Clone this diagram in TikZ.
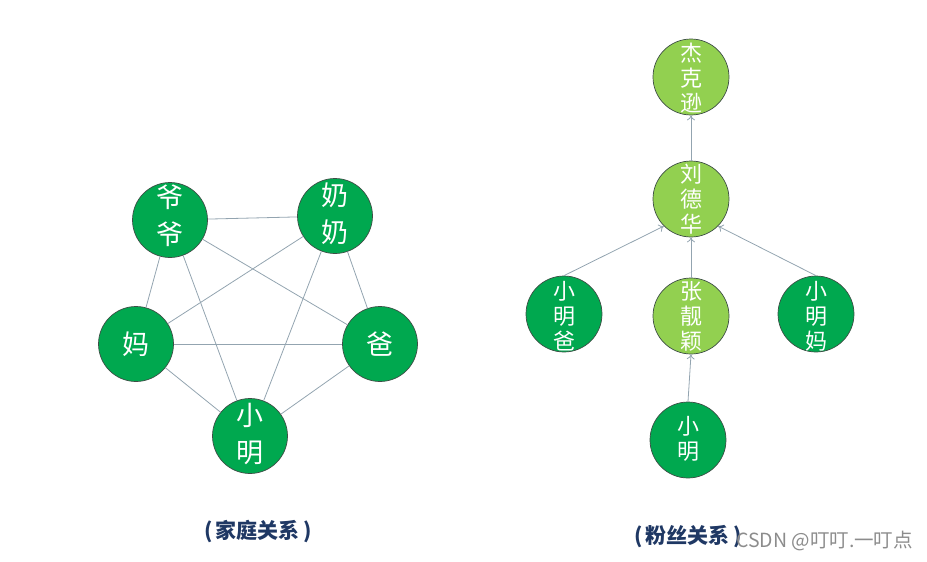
\documentclass[tikz,border=0pt]{standalone}
\usepackage{fontspec}
\setmainfont{Noto Sans CJK SC}
\newfontfamily\cjk{Noto Sans CJK SC}
\usetikzlibrary{arrows.meta}
\definecolor{dgreen}{HTML}{00A84F}
\definecolor{lgreen}{HTML}{92D050}
\definecolor{edgec}{HTML}{93A4B0}
\definecolor{outl}{HTML}{3E4E46}
\definecolor{navy}{HTML}{1F3864}
\definecolor{wm}{HTML}{8C8C8C}
\tikzset{
  fam/.style={circle,fill=dgreen,draw=outl,line width=0.7pt,minimum size=75pt,inner sep=0pt},
  famtext/.style={text=white,align=center,inner sep=0pt,font=\cjk\fontsize{27}{37}\selectfont},
  fandark/.style={circle,fill=dgreen,draw=outl,line width=0.7pt,minimum size=76pt,inner sep=0pt},
  fanlight/.style={fandark,fill=lgreen},
  fantext/.style={text=white,align=center,inner sep=0pt,font=\cjk\fontsize{22}{25}\selectfont},
  link/.style={draw=edgec,line width=0.8pt},
  arr/.style={draw=edgec,line width=0.8pt,-{To[length=5pt,width=8pt]}},
  caption/.style={text=navy,font=\cjk\bfseries\fontsize{21}{24}\selectfont,inner sep=0pt},
  wmark/.style={text=wm,font=\cjk\fontsize{19.5}{22}\selectfont,inner sep=0pt,anchor=west}
}
\begin{document}
\begin{tikzpicture}[x=1pt,y=-1pt]
\useasboundingbox (0,0) rectangle (927,562);
% family graph
\node[fam] (yy) at (170,220) {};
\node[fam] (nn) at (335,216) {};
\node[fam] (ma) at (136,344) {};
\node[fam] (ba) at (380,344) {};
\node[fam] (xm) at (250,436) {};
\foreach \a/\b in {yy/nn,yy/ma,yy/ba,yy/xm,nn/ma,nn/xm,nn/ba,ma/ba,ma/xm,ba/xm}
  \draw[link] (\a) -- (\b);
\node[famtext] (yyt) at (170,216) {爷\\爷};
\node[famtext] (nnt) at (335,214) {奶\\奶};
\node[famtext] (mat) at (136,344) {妈};
\node[famtext] (bat) at (380,344) {爸};
\node[famtext] (xmt) at (250,434) {小\\明};
\node[caption] (cap1) at (258,532) {(\,家庭关系\,)};
% fan tree
\node[fanlight] (jkx) at (691,77) {};
\node[fanlight] (ldh) at (691,199) {};
\node[fandark] (xmb) at (564,314) {};
\node[fanlight] (zly) at (691,316) {};
\node[fandark] (xmm) at (816,314) {};
\node[fandark] (xm2) at (688,440) {};
\draw[arr] (ldh.north) -- (jkx.south);
\draw[arr] (xmb.north) -- (ldh.south west);
\draw[arr] (zly.north) -- (ldh.south);
\draw[arr] (xmm.north) -- (ldh.south east);
\draw[arr] (xm2.north) -- (zly.south);
\node[fantext] (jkxt) at (691,78) {杰\\克\\逊};
\node[fantext] (ldht) at (691,199) {刘\\德\\华};
\node[fantext] (xmbt) at (564,316) {小\\明\\爸};
\node[fantext] (zlyt) at (691,316) {张\\靓\\颖};
\node[fantext] (xmmt) at (816,316) {小\\明\\妈};
\node[fantext] (xm2t) at (688,439) {小\\明};
\node[caption] (cap2) at (688,537) {(\,粉丝关系\,)};
\node[wmark] (wmk) at (736,541) {CSDN @叮叮.一叮点};
\end{tikzpicture}
\end{document}
